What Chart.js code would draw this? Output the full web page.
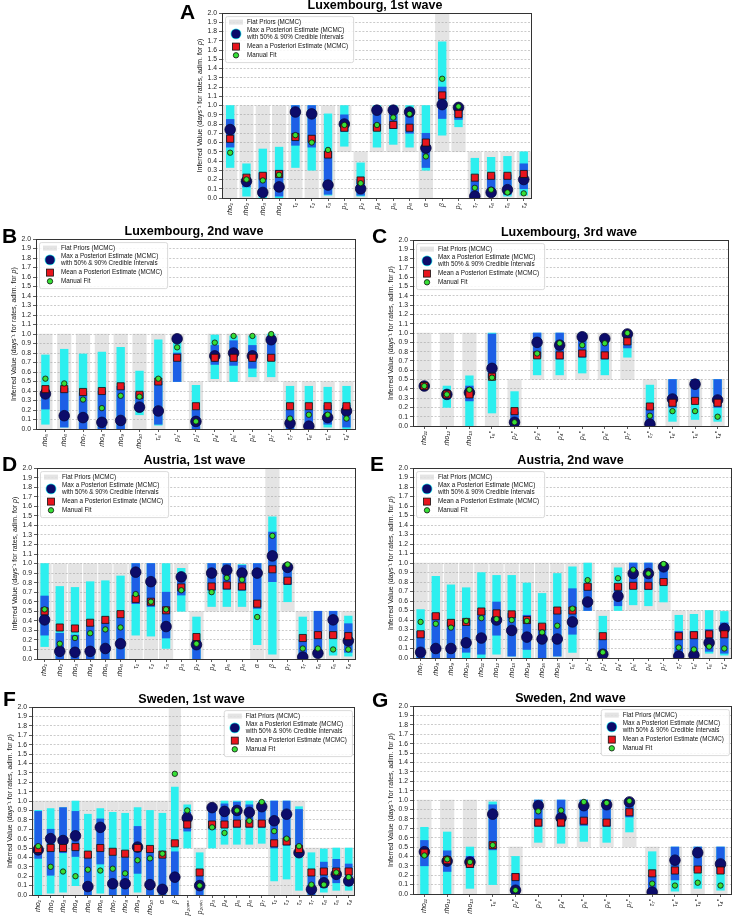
<!DOCTYPE html>
<html>
<head>
<meta charset="utf-8">
<script src="https://cdn.jsdelivr.net/npm/chart.js@4.4.0/dist/chart.umd.min.js"></script>
<style>
  body { margin: 0; background: #fff; width: 739px; height: 923px; position: relative; overflow: hidden;
         font-family: "Liberation Sans", Arial, sans-serif; }
  canvas { position: absolute; }
  .ttl { position: absolute; font-weight: bold; font-size: 12.5px; line-height: 1; white-space: nowrap; transform: translateX(-50%); }
  .lbl { position: absolute; font-weight: bold; font-size: 21px; line-height: 1; }
</style>
</head>
<body>
<script>
// ---- A: Luxembourg, 1st wave
const aLabels = ['rho₁','rho₂','rho₃','rho₄','τ₁','τ₂','τ₃','p₃','p₂','p₄','p₅','p₆','α','β','p₇','τ₇','τ₆','τ₅','τ₄'];
const aPrior = [[0,1],[0,1],[0,1],[0,1],[0,1],[0,1],[0,1],[0.5,1],[0,0.5],[0.5,1],[0.5,1],[0.5,1],[0,1],[0.5,2],[0.5,1],[0,0.5],[0,0.5],[0,0.5],[0,0.5]];
const aCi90 = [[0.33,1],[0.02,0.37],[0,0.53],[0,0.55],[0.33,1],[0.3,1],[0.03,0.91],[0.56,1],[0.02,0.38],[0.55,1],[0.58,1],[0.55,1],[0.3,1],[0.68,1.69],[0.77,1],[0,0.43],[0.02,0.44],[0.02,0.45],[0.03,0.5]];
const aCi50 = [[0.55,0.85],[0.12,0.22],[0.02,0.27],[0.02,0.3],[0.57,1],[0.55,1],[0.04,0.5],[0.72,0.9],[0.03,0.2],[0.73,0.95],[0.75,0.98],[0.7,0.97],[0.33,0.7],[0.86,1.2],[0.85,0.99],[0,0.18],[0.03,0.25],[0.04,0.25],[0.1,0.37]];
const aMap = [0.74,0.18,0.06,0.12,0.93,0.91,0.14,0.80,0.10,0.95,0.95,0.93,0.54,1.01,0.98,0.02,0.06,0.09,0.20];
const aMean = [0.64,0.22,0.24,0.26,0.66,0.64,0.47,0.76,0.19,0.76,0.79,0.76,0.60,1.11,0.91,0.22,0.24,0.24,0.26];
const aManual = [0.49,0.20,0.19,0.25,0.68,0.60,0.52,0.79,0.16,0.79,0.87,0.91,0.45,1.29,0.99,0.11,0.09,0.06,0.05];

// ---- B: Luxembourg, 2nd wave
const bLabels = ['rho₅','rho₆','rho₇','rho₈','rho₉','rho₁₀','τ₅′','p₃′','p₂′','p₄′','p₅′','p₆′','p₇′','τ₇′','τ₆′','τ₅′','τ₄′'];
const bPrior = [[0,1],[0,1],[0,1],[0,1],[0,1],[0,1],[0,1],[0.5,1],[0,0.5],[0.5,1],[0.5,1],[0.5,1],[0.5,1],[0,0.5],[0,0.5],[0,0.5],[0,0.5]];
const bCi90 = [[0.05,0.78],[0.02,0.84],[0,0.79],[0,0.81],[0,0.86],[0.15,0.61],[0.04,0.94],[0.5,0.95],[0,0.46],[0.53,0.99],[0.5,0.98],[0.55,0.98],[0.55,1],[0,0.45],[0,0.45],[0.02,0.44],[0,0.45]];
const bCi50 = [[0.21,0.42],[0.02,0.43],[0,0.38],[0,0.4],[0,0.45],[0.2,0.38],[0.05,0.5],[0.5,0.8],[0,0.2],[0.68,0.88],[0.67,0.93],[0.64,0.88],[0.72,0.97],[0,0.2],[0,0.2],[0.05,0.25],[0.02,0.25]];
const bMap = [0.37,0.14,0.12,0.07,0.09,0.23,0.19,0.95,0.08,0.77,0.80,0.77,0.94,0.06,0.03,0.12,0.19];
const bMean = [0.42,0.42,0.39,0.40,0.45,0.36,0.50,0.75,0.24,0.75,0.75,0.75,0.75,0.24,0.24,0.24,0.24];
const bManual = [0.53,0.48,0.31,0.22,0.35,0.34,0.53,0.86,0.08,0.91,0.98,0.98,1.00,0.11,0.15,0.15,0.11];

// ---- C: Luxembourg, 3rd wave
const cLabels = ['rho₁₁','rho₁₂','rho₁₃','τ₅″','p₂″','p₃″','p₄″','p₅″','p₆″','p₇″','τ₇″','τ₆″','τ₅″','τ₄″'];
const cPrior = [[0,1],[0,1],[0,1],[0,1],[0,0.5],[0.5,1],[0.5,1],[0.5,1],[0.5,1],[0.5,1],[0,0.5],[0,0.5],[0,0.5],[0,0.5]];
const cCi90 = [[0.42,0.44],[0.2,0.43],[0,0.54],[0.14,1],[0,0.37],[0.55,1],[0.55,1],[0.57,1],[0.55,0.97],[0.74,1],[0,0.44],[0.05,0.5],[0.07,0.5],[0.05,0.5]];
const cCi50 = [[0.42,0.44],[0.3,0.37],[0.27,0.43],[0.52,0.99],[0,0.15],[0.74,1],[0.72,1],[0.74,0.98],[0.72,0.96],[0.84,0.99],[0,0.2],[0.2,0.5],[0.28,0.5],[0.2,0.5]];
const cMap = [0.43,0.34,0.36,0.62,0.04,0.90,0.87,0.96,0.94,0.99,0.02,0.29,0.45,0.28];
const cMean = [0.43,0.34,0.34,0.53,0.16,0.76,0.76,0.78,0.76,0.91,0.21,0.25,0.27,0.25];
const cManual = [0.43,0.34,0.39,0.52,0.04,0.78,0.89,0.87,0.89,1.00,0.11,0.16,0.16,0.10];

// ---- D: Austria, 1st wave
const dLabels = ['rho₁','rho₂','rho₃','rho₄','rho₅','rho₆','τ₁','τ₂','τ₃','p₃','p₂','p₄','p₅','p₆','α','β','p₇','τ₇','τ₆','τ₅','τ₄'];
const dPrior = [[0,1],[0,1],[0,1],[0,1],[0,1],[0,1],[0,1],[0,1],[0,1],[0.5,1],[0,0.5],[0.5,1],[0.5,1],[0.5,1],[0,1],[0,2],[0.5,1],[0,0.5],[0,0.5],[0,0.5],[0,0.5]];
const dCi90 = [[0.13,1],[0,0.76],[0,0.75],[0,0.81],[0,0.82],[0,0.87],[0.25,1],[0.24,1],[0.11,1],[0.5,0.95],[0,0.44],[0.55,1],[0.55,1],[0.55,0.99],[0.15,1],[0.05,1.49],[0.6,1],[0,0.44],[0.02,0.5],[0.04,0.5],[0.03,0.45]];
const dCi50 = [[0.25,0.66],[0,0.27],[0,0.25],[0,0.35],[0,0.38],[0,0.43],[0.58,1],[0.55,1],[0.22,0.7],[0.67,0.83],[0,0.2],[0.72,1],[0.73,1],[0.72,0.98],[0.53,1],[0.81,1.33],[0.78,0.98],[0,0.2],[0.05,0.5],[0.22,0.5],[0.07,0.37]];
const dMap = [0.41,0.08,0.07,0.08,0.11,0.16,0.91,0.81,0.34,0.86,0.15,0.90,0.93,0.90,0.90,1.08,0.96,0.02,0.06,0.41,0.19];
const dMean = [0.50,0.33,0.32,0.38,0.41,0.47,0.63,0.60,0.51,0.75,0.23,0.76,0.77,0.76,0.58,0.94,0.82,0.22,0.25,0.25,0.24];
const dManual = [0.52,0.16,0.22,0.27,0.31,0.33,0.68,0.60,0.52,0.72,0.16,0.70,0.85,0.83,0.44,1.29,0.99,0.11,0.11,0.10,0.10];

// ---- E: Austria, 2nd wave
const eLabels = ['rho₇','rho₈','rho₉','rho₁₀','rho₁₁','rho₁₂','rho₁₃','rho₁₄','rho₁₅','rho₁₆','τ₅′','p₃′','p₂′','p₄′','p₅′','p₆′','p₇′','τ₇′','τ₆′','τ₅′','τ₄′'];
const ePrior = [[0,1],[0,1],[0,1],[0,1],[0,1],[0,1],[0,1],[0,1],[0,1],[0,1],[0,1],[0.5,1],[0,0.5],[0.5,1],[0.5,1],[0.5,1],[0.5,1],[0,0.5],[0,0.5],[0,0.5],[0,0.5]];
const eCi90 = [[0,0.51],[0,0.86],[0,0.77],[0,0.74],[0,0.9],[0.04,0.87],[0.02,0.87],[0,0.79],[0,0.68],[0.02,0.89],[0.06,0.96],[0.5,1],[0,0.44],[0.5,0.95],[0.56,1],[0.55,1],[0.59,1],[0,0.45],[0,0.46],[0.05,0.5],[0.03,0.49]];
const eCi50 = [[0,0.28],[0,0.47],[0,0.38],[0.06,0.4],[0.04,0.5],[0.24,0.59],[0.02,0.47],[0.09,0.45],[0,0.35],[0.02,0.5],[0.25,0.73],[0.5,0.78],[0,0.2],[0.55,0.78],[0.73,1],[0.72,1],[0.78,0.98],[0,0.28],[0,0.28],[0.07,0.3],[0.05,0.37]];
const eMap = [0.06,0.10,0.10,0.16,0.21,0.40,0.29,0.22,0.20,0.20,0.38,0.59,0.04,0.65,0.89,0.89,0.96,0.02,0.03,0.16,0.31];
const eMean = [0.25,0.44,0.37,0.38,0.49,0.47,0.46,0.40,0.33,0.50,0.50,0.75,0.23,0.75,0.76,0.76,0.80,0.23,0.24,0.25,0.25];
const eManual = [0.38,0.36,0.32,0.39,0.42,0.41,0.40,0.39,0.27,0.34,0.52,0.82,0.06,0.84,0.93,0.89,0.99,0.11,0.09,0.12,0.10];

// ---- F: Sweden, 1st wave
const fLabels = ['rho₁','rho₂','rho₃','rho₄','rho₅','rho₆','rho₇','rho₈','rho₉','rho₁₀','α','β','p₂ₘₐₓ','p₂ₘᵢₙ','p₃','p₄','p₅','p₆','p₇','τ₁','τ₂','τ₃','τ₇','τ₆','τ₅','τ₄'];
const fPrior = [[0,1],[0,1],[0,1],[0,1],[0,1],[0,1],[0,1],[0,1],[0,1],[0,1],[0,1],[0,2],[0.5,1],[0,0.5],[0.5,1],[0.5,1],[0.5,1],[0.5,1],[0.5,1],[0,1],[0,1],[0,1],[0,0.5],[0,0.5],[0,0.5],[0,0.5]];
const fCi90 = [[0,0.9],[0.02,0.92],[0.03,0.93],[0.1,1],[0,0.86],[0.02,0.92],[0,0.88],[0,0.87],[0.03,0.93],[0,0.9],[0,0.87],[0.05,1.15],[0.5,0.96],[0,0.45],[0.5,0.96],[0.54,1],[0.54,1],[0.54,1],[0.55,1],[0.15,1],[0.17,1],[0.05,0.94],[0,0.45],[0.03,0.49],[0.05,0.5],[0.05,0.5]];
const fCi50 = [[0.39,0.89],[0.21,0.7],[0.45,0.93],[0.41,0.89],[0,0.43],[0.33,0.81],[0,0.42],[0,0.4],[0.23,0.73],[0,0.47],[0,0.43],[0,0.46],[0.68,0.88],[0,0.2],[0.7,0.93],[0.72,0.97],[0.72,0.99],[0.72,0.96],[0.72,0.98],[0.5,1],[0.53,1],[0.42,0.91],[0,0.2],[0.08,0.35],[0.13,0.38],[0.1,0.33]];
const fMap = [0.48,0.60,0.58,0.63,0.09,0.72,0.12,0.12,0.51,0.11,0.06,0.19,0.82,0.10,0.93,0.89,0.90,0.88,0.94,0.79,0.86,0.45,0.06,0.13,0.22,0.15];
const fMean = [0.49,0.50,0.50,0.51,0.43,0.50,0.46,0.44,0.50,0.49,0.43,0.55,0.75,0.24,0.75,0.75,0.76,0.76,0.76,0.55,0.57,0.49,0.24,0.25,0.25,0.25];
const fManual = [0.52,0.30,0.25,0.20,0.27,0.26,0.28,0.23,0.37,0.39,0.44,1.29,0.90,0.10,0.72,0.66,0.90,0.79,0.99,0.68,0.60,0.52,0.11,0.11,0.24,0.19];

// ---- G: Sweden, 2nd wave
const gLabels = ['rho₁₁','rho₁₂','rho₁₃','τ₅″','p₂″','p₃″','p₄″','p₅″','p₆″','p₇″','τ₇″','τ₆″','τ₅″','τ₄″'];
const gPrior = [[0,1],[0,1],[0,1],[0,1],[0,0.5],[0.5,1],[0.5,1],[0.5,1],[0.5,1],[0.5,1],[0,0.5],[0,0.5],[0,0.5],[0,0.5]];
const gCi90 = [[0,0.71],[0,0.66],[0.06,0.5],[0.1,0.98],[0,0.4],[0.55,1],[0.54,1],[0.56,1],[0.55,1],[0.66,1],[0,0.45],[0.03,0.5],[0.06,0.5],[0.04,0.5]];
const gCi50 = [[0.3,0.57],[0.24,0.46],[0.28,0.4],[0.47,0.95],[0,0.22],[0.72,1],[0.72,1],[0.73,1],[0.72,1],[0.82,1],[0,0.2],[0.15,0.5],[0.25,0.5],[0.22,0.5]];
const gMap = [0.45,0.35,0.34,0.85,0.04,0.94,0.81,0.94,0.95,0.98,0.02,0.36,0.44,0.32];
const gMean = [0.44,0.36,0.32,0.52,0.18,0.76,0.76,0.78,0.76,0.87,0.22,0.25,0.26,0.25];
const gManual = [0.41,0.37,0.34,0.52,0.04,0.88,0.89,0.98,0.97,0.99,0.11,0.09,0.12,0.09];

const legendText = ['Flat Priors (MCMC)', 'Max a Posteriori Estimate (MCMC)', 'with 50% & 90% Credible Intervals',
                    'Mean a Posteriori Estimate (MCMC)', 'Manual Fit'];

// colours
const GREY = 'rgba(150,150,150,0.26)';
const CYAN = '#2cefef';
const BLUE = '#1d5fe6';
const NAVY = '#0c0c6a';
const RED = '#e8141c';
const GREEN = '#36e036';
const FONT = '"Liberation Sans", Arial, sans-serif';

// panel layout (plot area edges in page pixels)
const panels = [
  { id: 'A', title: 'Luxembourg, 1st wave', l: 222, t: 13, r: 532, b: 198, lx: 180, ly: 1, side: 'left',
    labels: aLabels, prior: aPrior, ci90: aCi90, ci50: aCi50, map: aMap, mean: aMean, manual: aManual },
  { id: 'B', title: 'Luxembourg, 2nd wave', l: 36, t: 239, r: 356, b: 429, lx: 2, ly: 225, side: 'left',
    labels: bLabels, prior: bPrior, ci90: bCi90, ci50: bCi50, map: bMap, mean: bMean, manual: bManual },
  { id: 'C', title: 'Luxembourg, 3rd wave', l: 413, t: 240, r: 729, b: 426, lx: 372, ly: 225, side: 'left',
    labels: cLabels, prior: cPrior, ci90: cCi90, ci50: cCi50, map: cMap, mean: cMean, manual: cManual },
  { id: 'D', title: 'Austria, 1st wave', l: 37, t: 468, r: 356, b: 659, lx: 2, ly: 453, side: 'left',
    labels: dLabels, prior: dPrior, ci90: dCi90, ci50: dCi50, map: dMap, mean: dMean, manual: dManual },
  { id: 'E', title: 'Austria, 2nd wave', l: 413, t: 468, r: 732, b: 658, lx: 370, ly: 453, side: 'left',
    labels: eLabels, prior: ePrior, ci90: eCi90, ci50: eCi50, map: eMap, mean: eMean, manual: eManual },
  { id: 'F', title: 'Sweden, 1st wave', l: 32, t: 707, r: 355, b: 895, lx: 3, ly: 688, side: 'right', narrow: true,
    labels: fLabels, prior: fPrior, ci90: fCi90, ci50: fCi50, map: fMap, mean: fMean, manual: fManual },
  { id: 'G', title: 'Sweden, 2nd wave', l: 413, t: 706, r: 732, b: 894, lx: 372, ly: 689, side: 'right',
    labels: gLabels, prior: gPrior, ci90: gCi90, ci50: gCi50, map: gMap, mean: gMean, manual: gManual }
];

const YW = 28, PT = 6, PR = 6, XH = 30;

// frame, y title and legend box
const extrasPlugin = {
  id: 'extras',
  afterDraw(chart, args, opts) {
    const ctx = chart.ctx, a = chart.chartArea;
    ctx.save();
    ctx.strokeStyle = '#333';
    ctx.lineWidth = 1;
    ctx.strokeRect(Math.round(a.left) + 0.5, Math.round(a.top) + 0.5,
                   Math.round(a.right - a.left) - 1, Math.round(a.bottom - a.top));

    // y axis title with italic p
    const p1 = 'Inferred Value (days⁻¹ for rates, adim. for ', p2 = 'p', p3 = ')';
    const normal = '7px ' + FONT, ital = 'italic 7px ' + FONT;
    ctx.font = normal;
    const w1 = ctx.measureText(p1).width, w3 = ctx.measureText(p3).width;
    ctx.font = ital;
    const w2 = ctx.measureText(p2).width;
    ctx.translate(a.left - 22, (a.top + a.bottom) / 2);
    ctx.rotate(-Math.PI / 2);
    ctx.fillStyle = '#111';
    ctx.textBaseline = 'middle';
    let x = -(w1 + w2 + w3) / 2;
    ctx.font = normal; ctx.fillText(p1, x, 0); x += w1;
    ctx.font = ital; ctx.fillText(p2, x, 0); x += w2;
    ctx.font = normal; ctx.fillText(p3, x, 0);
    ctx.restore();

    // legend
    ctx.save();
    ctx.font = '6.3px ' + FONT;
    let tw = 0;
    legendText.forEach(t => { tw = Math.max(tw, ctx.measureText(t).width); });
    const bw = tw + 27, bh = 46;
    const x0 = opts.side === 'right' ? a.right - 3 - bw : a.left + 3;
    const y0 = a.top + 3;
    ctx.fillStyle = 'rgba(255,255,255,0.85)';
    ctx.strokeStyle = '#d0d0d0';
    ctx.lineWidth = 0.8;
    ctx.beginPath();
    if (ctx.roundRect) ctx.roundRect(x0 + 0.5, y0 + 0.5, bw, bh, 2); else ctx.rect(x0 + 0.5, y0 + 0.5, bw, bh);
    ctx.fill();
    ctx.stroke();

    const mx = x0 + 11, tx = x0 + 22;
    ctx.fillStyle = GREY;
    ctx.fillRect(x0 + 4, y0 + 3.5, 14, 5);

    ctx.beginPath(); ctx.arc(mx, y0 + 17.8, 5.4, 0, Math.PI * 2);
    ctx.fillStyle = CYAN; ctx.fill();
    ctx.beginPath(); ctx.arc(mx, y0 + 17.8, 4.7, 0, Math.PI * 2);
    ctx.fillStyle = NAVY; ctx.fill();

    ctx.fillStyle = RED; ctx.fillRect(mx - 3.5, y0 + 27, 7, 7);
    ctx.strokeStyle = '#111'; ctx.lineWidth = 0.8; ctx.strokeRect(mx - 3.5, y0 + 27, 7, 7);

    ctx.beginPath(); ctx.arc(mx, y0 + 39.2, 2.7, 0, Math.PI * 2);
    ctx.fillStyle = GREEN; ctx.fill(); ctx.stroke();

    ctx.fillStyle = '#111';
    ctx.textBaseline = 'middle';
    ctx.fillText(legendText[0], tx, y0 + 6.5);
    ctx.fillText(legendText[1], tx, y0 + 14.6);
    ctx.fillText(legendText[2], tx, y0 + 21.2);
    ctx.fillText(legendText[3], tx, y0 + 30.5);
    ctx.fillText(legendText[4], tx, y0 + 39.2);
    ctx.restore();
  }
};

function makePanel(p) {
  const cv = document.createElement('canvas');
  cv.width = p.r - p.l + YW + PR;
  cv.height = p.b - p.t + PT + XH;
  cv.style.left = (p.l - YW) + 'px';
  cv.style.top = (p.t - PT) + 'px';
  document.body.appendChild(cv);

  const t = document.createElement('div');
  t.className = 'ttl';
  t.textContent = p.title;
  t.style.left = ((p.l + p.r) / 2 - 2) + 'px';
  t.style.top = (p.t - 14) + 'px';
  document.body.appendChild(t);

  const l = document.createElement('div');
  l.className = 'lbl';
  l.textContent = p.id;
  l.style.left = p.lx + 'px';
  l.style.top = p.ly + 'px';
  document.body.appendChild(l);

  const gw = p.narrow ? 11.5 : 13.5, bw = p.narrow ? 7 : 7.7;

  new Chart(cv, {
    type: 'bar',
    data: {
      labels: p.labels,
      datasets: [
        { type: 'line', label: 'Manual Fit', data: p.manual, showLine: false, pointRadius: 2.7,
          pointBackgroundColor: GREEN, pointBorderColor: '#111', pointBorderWidth: 0.8, order: 1 },
        { type: 'line', label: 'Mean a Posteriori Estimate (MCMC)', data: p.mean, showLine: false, pointStyle: 'rect',
          pointRadius: 5, pointBackgroundColor: RED, pointBorderColor: '#111', pointBorderWidth: 0.8, order: 2 },
        { type: 'line', label: 'Max a Posteriori Estimate (MCMC)', data: p.map, showLine: false, pointRadius: 5.3,
          pointBackgroundColor: NAVY, pointBorderColor: '#06063e', pointBorderWidth: 0.8, order: 3 },
        { label: '50% CI', data: p.ci50, backgroundColor: BLUE, barThickness: bw, grouped: false, order: 4 },
        { label: '90% CI', data: p.ci90, backgroundColor: CYAN, barThickness: bw, grouped: false, order: 5 },
        { label: 'Flat Priors (MCMC)', data: p.prior, backgroundColor: GREY, barThickness: gw, grouped: false, order: 6 }
      ]
    },
    options: {
      responsive: false,
      animation: false,
      devicePixelRatio: 1,
      layout: { padding: { top: PT, right: PR, left: 0, bottom: 0 } },
      plugins: { legend: { display: false }, tooltip: { enabled: false }, extras: { side: p.side } },
      scales: {
        x: {
          grid: { drawOnChartArea: false, offset: false, tickLength: 3, tickColor: '#333', tickWidth: 0.8 },
          border: { display: false },
          ticks: { autoSkip: false, minRotation: 90, maxRotation: 90, padding: 2, color: '#222',
                   font: { family: FONT, size: 6.8, style: 'italic' } },
          afterFit(s) { s.height = XH; }
        },
        y: {
          min: 0, max: 2,
          grid: { color: '#a8a8a8', lineWidth: 0.6, tickLength: 3, tickColor: '#333', tickWidth: 0.8 },
          border: { display: false, dash: [2, 1.6] },
          ticks: { stepSize: 0.1, autoSkip: false, padding: 2, color: '#222',
                   font: { family: FONT, size: 6.8 }, callback: v => v.toFixed(1) },
          afterFit(s) { s.width = YW; }
        }
      }
    },
    plugins: [extrasPlugin]
  });
}

panels.forEach(makePanel);
</script>
</body>
</html>
